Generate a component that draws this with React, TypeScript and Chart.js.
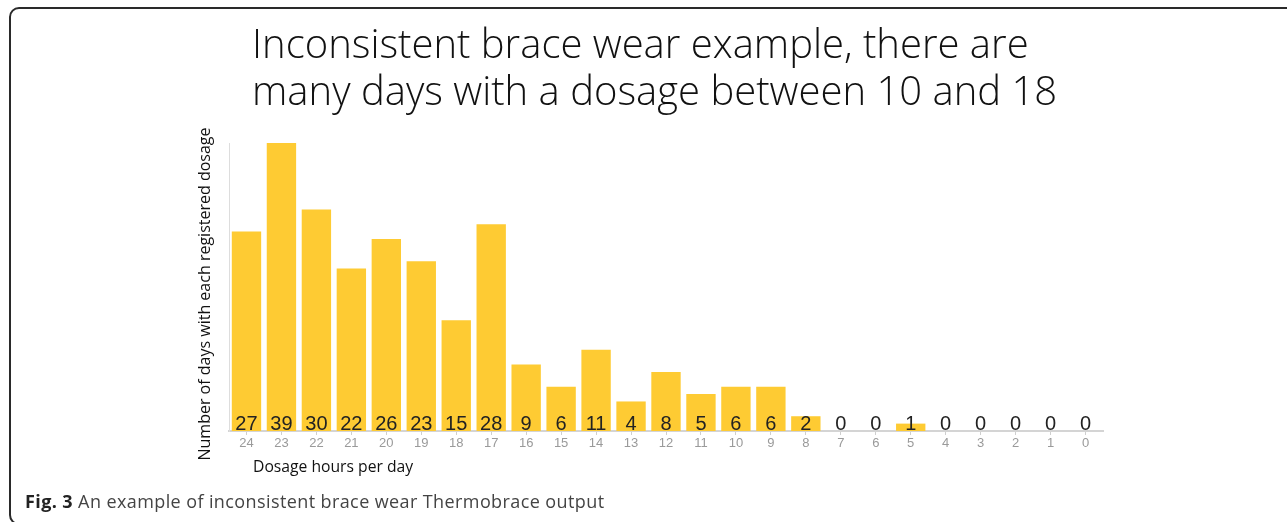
import React, { useEffect, useRef } from "react";
import { Chart, registerables } from "chart.js";

Chart.register(...registerables);

const categories: string[] = ["24","23","22","21","20","19","18","17","16","15","14","13","12","11","10","9","8","7","6","5","4","3","2","1","0"];
const daysCount: number[] = [27, 39, 30, 22, 26, 23, 15, 28, 9, 6, 11, 4, 8, 5, 6, 6, 2, 0, 0, 1, 0, 0, 0, 0, 0];
const titleLines: string[] = ["Inconsistent brace wear example, there are", "many days with a dosage between 10 and 18"];
const yTitle = "Number of days with each registered dosage";
const xTitle = "Dosage hours per day";

const labelsPlugin = {
  id: "valueLabels",
  afterDatasetsDraw(chart: any) {
    const ctx = chart.ctx;
    const meta = chart.getDatasetMeta(0);
    const yScale = chart.scales.y;
    const base = yScale.getPixelForValue(0);
    ctx.save();
    ctx.font = "20px 'Liberation Sans', Arial, sans-serif";
    ctx.fillStyle = "#222";
    ctx.textAlign = "center";
    ctx.textBaseline = "alphabetic";
    meta.data.forEach((bar: any, i: number) => {
      ctx.fillText(String(daysCount[i]), bar.x, base - 1);
    });
    // x axis title, left aligned under the axis
    ctx.font = "15.7px 'Open Sans', sans-serif";
    ctx.fillStyle = "#111";
    ctx.textAlign = "left";
    ctx.textBaseline = "middle";
    ctx.fillText(xTitle, 253, 468);
    // y axis title, rotated
    ctx.translate(205, 294);
    ctx.rotate(-Math.PI / 2);
    ctx.font = "16px 'Open Sans', sans-serif";
    ctx.textAlign = "center";
    ctx.fillText(yTitle, 0, 0);
    ctx.restore();
  },
};

export default function App() {
  const canvasRef = useRef<HTMLCanvasElement | null>(null);

  useEffect(() => {
    if (!canvasRef.current) return;
    const chart = new Chart(canvasRef.current, {
      type: "bar",
      data: {
        labels: categories,
        datasets: [
          {
            data: daysCount,
            backgroundColor: "#FECB33",
            borderWidth: 0,
            barPercentage: 0.84,
            categoryPercentage: 1,
          },
        ],
      },
      options: {
        responsive: false,
        animation: false,
        layout: { padding: { left: 229, right: 184, top: 143, bottom: 71 } },
        plugins: {
          legend: { display: false },
          tooltip: { enabled: false },
        },
        scales: {
          x: {
            afterFit: (s: any) => { s.height = 20; },
            grid: {
              display: true,
              drawOnChartArea: false,
              drawTicks: true,
              tickLength: 4,
              offset: false,
              color: "#cfcfcf",
            },
            border: { display: true, color: "#d4d4d4", width: 2 },
            ticks: {
              color: "#9a9a9a",
              padding: 1,
              font: { size: 13, family: "'Liberation Sans', Arial, sans-serif" },
              maxRotation: 0,
              autoSkip: false,
            },
          },
          y: {
            min: 0,
            max: 39,
            afterFit: (s: any) => { s.width = 0; },
            grid: { display: false },
            border: { display: true, color: "#dddddd", width: 1 },
            ticks: { display: false },
            title: { display: false },
          },
        },
      },
      plugins: [labelsPlugin],
    });
    return () => chart.destroy();
  }, []);

  return (
    <div style={{ position: "absolute", left: 0, top: 0, width: 1287, height: 522, overflow: "hidden", background: "#fff" }}>
      <div
        style={{
          position: "absolute",
          left: 9,
          top: 7,
          width: 1320,
          height: 518,
          border: "2px solid #2a2a2a",
          borderRadius: 10,
          boxSizing: "border-box",
        }}
      />
      <canvas ref={canvasRef} width={1287} height={522} style={{ position: "absolute", left: 0, top: 0 }} />
      <div
        style={{
          position: "absolute",
          left: 252,
          top: 19,
          fontFamily: "'Open Sans', sans-serif",
          fontWeight: 300,
          fontSize: 40,
          lineHeight: "47px",
          color: "#111",
          whiteSpace: "nowrap",
        }}
      >
        <div>{titleLines[0]}</div>
        <div>{titleLines[1]}</div>
      </div>
      <div
        style={{
          position: "absolute",
          left: 25,
          top: 489,
          fontFamily: "'Open Sans', sans-serif",
          fontSize: 18,
          letterSpacing: 0.4,
          color: "#444",
          whiteSpace: "nowrap",
        }}
      >
        <span style={{ fontWeight: 700, color: "#222" }}>Fig. 3</span> An example of inconsistent brace wear Thermobrace output
      </div>
    </div>
  );
}
